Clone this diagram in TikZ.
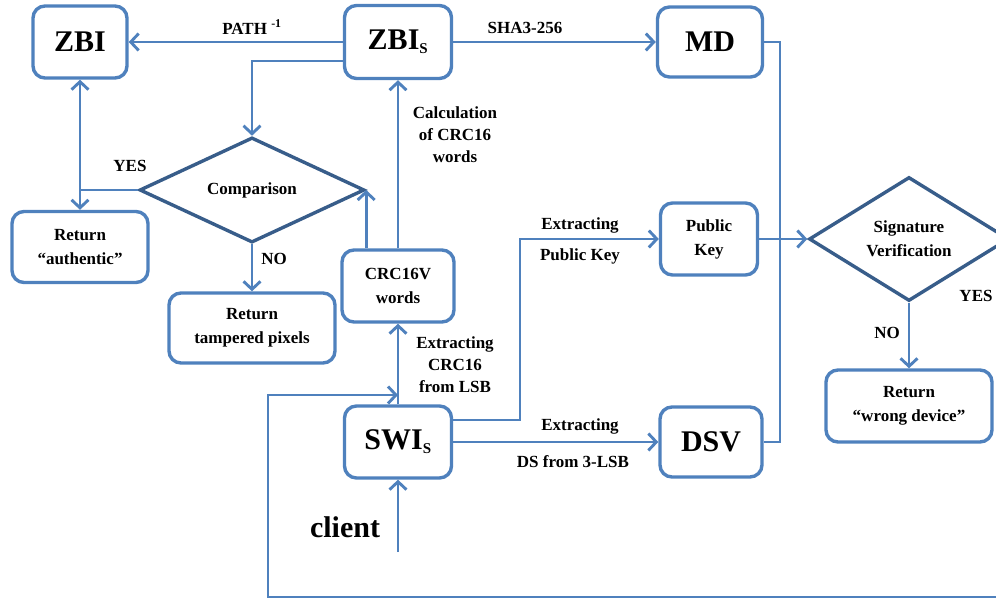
\documentclass[tikz,border=0pt]{standalone}
\usepackage{fontspec}
\setmainfont{Liberation Serif}
\usetikzlibrary{arrows.meta,shapes.geometric,calc}
\definecolor{boxblue}{RGB}{79,129,189}
\definecolor{diablue}{RGB}{56,93,138}
\begin{document}
\begin{tikzpicture}[x=1pt,y=-1pt,
  box/.style={draw=boxblue,line width=3.4pt,rounded corners=12pt,fill=white,align=center,inner sep=0pt,font=\bfseries\fontsize{17}{24}\selectfont},
  bigbox/.style={box,font=\bfseries\fontsize{30}{34}\selectfont},
  dia/.style={draw=diablue,line width=3.4pt,diamond,inner sep=0pt,align=center,font=\bfseries\fontsize{17}{24}\selectfont},
  conn/.style={draw=boxblue,line width=2.9pt},
  tip/.tip={Straight Barb[length=8pt,width=17pt]},
  arr/.style={conn,-tip},
  lbl/.style={align=center,inner sep=0pt,font=\bfseries\fontsize{17}{22}\selectfont}]
\useasboundingbox (0,0) rectangle (996,601);
\clip (0,0) rectangle (996,601);
% nodes
\node[bigbox,minimum width=94pt,minimum height=72pt] (zbi) at (80,42) {ZBI};
\node[bigbox,minimum width=107pt,minimum height=73pt] (zbis) at (398,42) {ZBI\textsubscript{\fontsize{15}{15}\selectfont S}};
\node[bigbox,minimum width=105pt,minimum height=70pt] (md) at (710,42) {MD};
\node[box,minimum width=136pt,minimum height=71pt] (auth) at (80,247) {Return\\“authentic”};
\node[box,minimum width=166pt,minimum height=70pt] (tamp) at (252,328) {Return\\tampered pixels};
\node[box,minimum width=112pt,minimum height=72pt] (crcv) at (398,286) {CRC16V\\words};
\node[bigbox,minimum width=107pt,minimum height=72pt] (swi) at (398,442) {SWI\textsubscript{\fontsize{15}{15}\selectfont S}};
\node[bigbox,minimum width=102pt,minimum height=70pt] (dsv) at (711,442) {DSV};
\node[box,minimum width=97pt,minimum height=72pt] (pk) at (709,239) {Public\\Key};
\node[box,minimum width=166pt,minimum height=72pt] (wrong) at (909,406) {Return\\“wrong device”};
\node[dia,minimum width=225pt,minimum height=88pt] (comp) at (252,190) {Comparison};
\node[dia,minimum width=200pt,minimum height=124pt] (sig) at (909,239) {Signature\\Verification};
\node[inner sep=0pt,font=\bfseries\fontsize{30}{34}\selectfont] (client) at (345,527) {client};
\coordinate (cl) at (398,552);
% labels
\node[lbl] (lpath) at (252,27) {PATH \textsuperscript{-1}};
\node[lbl] (lsha) at (525,28) {SHA3-256};
\node[lbl] (lyes1) at (130,166) {YES};
\node[lbl] (lno1) at (274,259) {NO};
\node[lbl] (lcalc) at (455,135) {Calculation\\of CRC16\\words};
\node[lbl] (lextc) at (455,365) {Extracting\\CRC16\\from LSB};
\node[lbl] (lpk1) at (580,225) {Extracting};
\node[lbl] (lpk2) at (580,256) {Public Key};
\node[lbl] (lds1) at (580,426) {Extracting};
\node[lbl] (lds2) at (573,462) {DS from 3-LSB};
\node[lbl] (lno2) at (887,333) {NO};
\node[lbl] (lyes2) at (976,296) {YES};
% connectors
\draw[arr] (zbis.west) -- (zbi.east);
\draw[arr] (zbis.east) -- (md.west);
\draw[arr] ([yshift=-19pt]zbis.west) -| (comp.north);
\draw[conn] (comp.west) -- (comp.west -| zbi.south);
\draw[conn,tip-tip] (zbi.south) -- (auth.north);
\draw[arr] (comp.south) -- (tamp.north);
\draw[arr] (crcv.north -| comp.east) -- (comp.east);
\draw[arr] (crcv.north) -- (zbis.south);
\draw[arr] (swi.north) -- (crcv.south);
\draw[arr] (cl) -- (swi.south);
\draw[arr] ([yshift=22pt]swi.east) -| (520,239) -- (pk.west);
\draw[arr] (swi.east) -- (dsv.west);
\draw[conn] (md.east) -| (780,442) -- (dsv.east);
\draw[arr] (pk.east) -- (sig.west);
\draw[arr] (sig.south) -- (wrong.north);
\draw[arr] (1000,597) -- (268,597) -- (268,395) -- (swi.north |- 268,395);
\end{tikzpicture}
\end{document}
